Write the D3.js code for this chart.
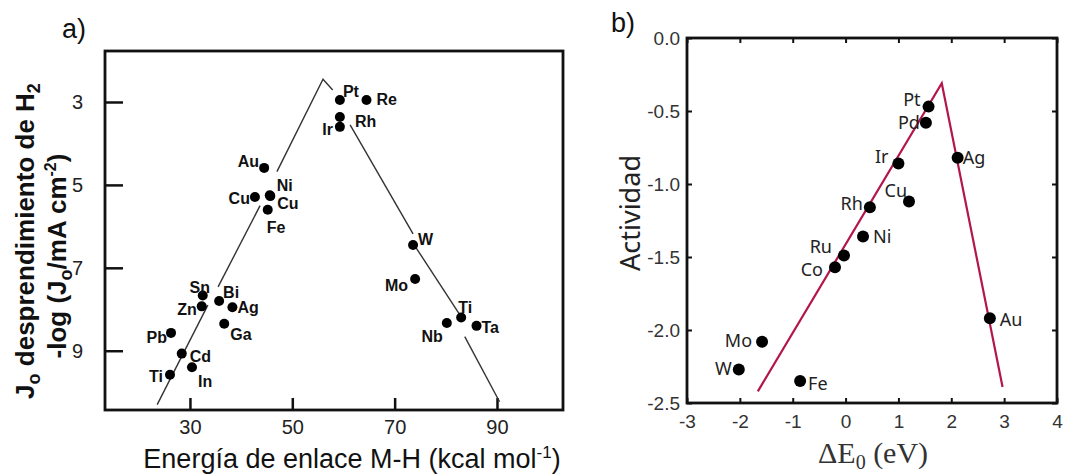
<!DOCTYPE html>
<html>
<head>
<meta charset="utf-8">
<script src="https://cdn.jsdelivr.net/npm/d3@7"></script>
<style>
  body { margin: 0; background: #fff; }
  svg { display: block; }
  .arial { font-family: "Liberation Sans", Arial, sans-serif; }
  .myriad { font-family: "Noto Sans", "Open Sans", sans-serif; }
  .serif { font-family: "Liberation Serif", "DejaVu Serif", serif; }
</style>
</head>
<body>
<svg id="chart" width="1073" height="476"></svg>
<script>
// panel a) metal names, M-H bond energy (kcal/mol), -log(J0)
var metalsA = ["Pt", "Re", "Rh", "Ir", "Au", "Cu", "Ni", "Cu", "Fe", "W", "Mo", "Sn", "Zn", "Bi", "Ag", "Ga", "Pb", "Cd", "In", "Ti", "Nb", "Ti", "Ta"];
var bondEnergy = [59.3, 64.5, 59.3, 59.3, 44.5, 42.7, 45.6, 45.7, 45.2, 73.6, 74.0, 32.5, 32.3, 35.7, 38.3, 36.7, 26.3, 28.4, 30.4, 26.1, 80.2, 83.0, 86.0];
var logJ0 = [2.95, 2.95, 3.36, 3.6, 4.59, 5.29, 5.25, 5.27, 5.6, 6.45, 7.27, 7.67, 7.93, 7.8, 7.95, 8.35, 8.57, 9.07, 9.4, 9.58, 8.33, 8.2, 8.4];
var ticksAx = [30, 50, 70, 90];
var ticksAy = [3, 5, 7, 9];
// hand drawn volcano line of a), broken around the labels
var volcanoA = [
  [[23.6, 10.3], [33.5, 7.9]],
  [[35.5, 7.46], [43.7, 5.5]],
  [[47.0, 4.68], [56.0, 2.45], [57.9, 2.71]],
  [[61.3, 3.55], [73.6, 6.18]],
  [[74.1, 6.5], [83.1, 8.2]],
  [[83.7, 8.66], [90.5, 10.23]]
];

// panel b) metal names, dE0 (eV), activity
var metalsB = ["Pt", "Pd", "Ir", "Ag", "Cu", "Rh", "Ni", "Ru", "Co", "Au", "Mo", "W", "Fe"];
var deltaE = [1.57, 1.52, 1.0, 2.12, 1.2, 0.46, 0.33, -0.03, -0.2, 2.73, -1.58, -2.02, -0.86];
var activity = [-0.47, -0.58, -0.86, -0.82, -1.12, -1.16, -1.36, -1.49, -1.57, -1.92, -2.08, -2.27, -2.35];
var ticksBx = [-3, -2, -1, 0, 1, 2, 3, 4];
var ticksBy = [-2.5, -2.0, -1.5, -1.0, -0.5, 0.0];
var volcanoB = [[-1.66, -2.42], [1.82, -0.31], [2.97, -2.39]];

// label placement [anchor, dx, dy] per point
var placeA = [
  ["start", 3, -3], ["start", 10, 5], ["start", 15, 10], ["end", -7, 8], ["end", -5, -1],
  ["end", -5, 7], ["start", 7, -4], ["start", 7, 13], ["start", -1, 23], ["start", 5, 0],
  ["end", -7, 12], ["middle", -3, -3], ["end", -5, 9], ["start", 4, -3], ["start", 5, 6],
  ["start", 6, 16], ["end", -4, 10], ["start", 8, 8], ["start", 6, 20], ["end", -7, 7],
  ["end", -4, 19], ["start", -3, -5], ["start", 5, 7]
];
var placeB = [
  ["end", -8, -1], ["end", -6, 6], ["end", -10, -1], ["start", 5, 6], ["end", -2, -5],
  ["end", -7, 3], ["start", 10, 6], ["end", -12, -3], ["end", -12, 9], ["start", 10, 8],
  ["end", -10, 5], ["end", -7, 6], ["start", 8, 9]
];

var svg = d3.select("#chart");

// ---------- panel a ----------
var xA = d3.scaleLinear().domain([13.4, 102.9]).range([105, 563]);
var yA = d3.scaleLinear().domain([1.77, 10.43]).range([51, 410]);

var ga = svg.append("g").attr("class", "arial");

ga.append("g")
  .attr("transform", "translate(105,0)")
  .call(d3.axisLeft(yA).tickValues(ticksAy).tickSize(-18).tickPadding(22))
  .call(g => g.select(".domain").remove())
  .call(g => g.selectAll("line").attr("stroke", "#111").attr("stroke-width", 2.5))
  .call(g => g.selectAll("text").attr("font-size", 20).attr("fill", "#222").attr("font-family", null));

ga.append("g")
  .attr("transform", "translate(0,410)")
  .call(d3.axisBottom(xA).tickValues(ticksAx).tickSize(-12).tickPadding(10))
  .call(g => g.select(".domain").remove())
  .call(g => g.selectAll("line").attr("stroke", "#111").attr("stroke-width", 2.5))
  .call(g => g.selectAll("text").attr("font-size", 20).attr("fill", "#222").attr("font-family", null));

ga.append("rect")
  .attr("x", xA.range()[0]).attr("y", yA.range()[0])
  .attr("width", xA.range()[1] - xA.range()[0])
  .attr("height", yA.range()[1] - yA.range()[0])
  .attr("fill", "none").attr("stroke", "#111").attr("stroke-width", 2.8);

var lineA = d3.line().x(d => xA(d[0])).y(d => yA(d[1]));
ga.selectAll(".vol").data(volcanoA).enter().append("path")
  .attr("d", lineA)
  .attr("fill", "none").attr("stroke", "#333").attr("stroke-width", 1.4);

ga.selectAll(".dotA").data(metalsA).enter().append("circle")
  .attr("cx", (d, i) => xA(bondEnergy[i]))
  .attr("cy", (d, i) => yA(logJ0[i]))
  .attr("r", 5).attr("fill", "#000");

ga.selectAll(".labA").data(metalsA).enter().append("text")
  .attr("x", (d, i) => xA(bondEnergy[i]) + placeA[i][1])
  .attr("y", (d, i) => yA(logJ0[i]) + placeA[i][2])
  .attr("text-anchor", (d, i) => placeA[i][0])
  .attr("font-size", 16).attr("font-weight", "bold").attr("fill", "#111")
  .text(d => d);

ga.append("text").attr("x", 62).attr("y", 38).attr("font-size", 27).attr("fill", "#111").text("a)");

var yl = ga.append("g").attr("font-weight", "bold").attr("font-size", 26)
  .attr("fill", "#111").attr("text-anchor", "middle");
var t1 = yl.append("text").attr("transform", "translate(34,241) rotate(-90)");
t1.append("tspan").text("J");
t1.append("tspan").attr("font-size", 18).attr("dy", 6).text("o");
t1.append("tspan").attr("dy", -6).text(" desprendimiento  de H");
t1.append("tspan").attr("font-size", 18).attr("dy", 6).text("2");
var t2 = yl.append("text").attr("transform", "translate(66,256) rotate(-90)");
t2.append("tspan").text("-log (J");
t2.append("tspan").attr("font-size", 18).attr("dy", 6).text("o");
t2.append("tspan").attr("dy", -6).text("/mA cm");
t2.append("tspan").attr("font-size", 16).attr("dy", -10).text("-2");
t2.append("tspan").attr("dy", 10).text(")");

var xl = ga.append("text").attr("x", 352).attr("y", 468).attr("text-anchor", "middle")
  .attr("font-size", 27).attr("fill", "#111");
xl.append("tspan").text("Energía de enlace M-H (kcal mol");
xl.append("tspan").attr("font-size", 17).attr("dy", -10).text("-1");
xl.append("tspan").attr("dy", 10).text(")");

// ---------- panel b ----------
var xB = d3.scaleLinear().domain([-3, 4]).range([687, 1057]);
var yB = d3.scaleLinear().domain([-2.5, 0]).range([403, 38]);

var gb = svg.append("g").attr("class", "myriad");

function tickStyle(g) {
  g.select(".domain").remove();
  g.selectAll("line").attr("stroke", "#111").attr("stroke-width", 2);
  g.selectAll("text").attr("font-size", 19).attr("fill", "#333").attr("font-family", null);
}

gb.append("g").attr("transform", "translate(687,0)")
  .call(d3.axisLeft(yB).tickValues(ticksBy).tickSize(-5).tickPadding(7).tickFormat(d => d.toFixed(1)))
  .call(tickStyle);
gb.append("g").attr("transform", "translate(1057,0)")
  .call(d3.axisRight(yB).tickValues(ticksBy).tickSize(-5).tickFormat(""))
  .call(tickStyle);
gb.append("g").attr("transform", "translate(0,403)")
  .call(d3.axisBottom(xB).tickValues(ticksBx).tickSize(-5).tickPadding(12).tickFormat(d => String(d)))
  .call(tickStyle);
gb.append("g").attr("transform", "translate(0,38)")
  .call(d3.axisTop(xB).tickValues(ticksBx).tickSize(-5).tickFormat(""))
  .call(tickStyle);

gb.append("rect")
  .attr("x", xB.range()[0]).attr("y", yB.range()[1])
  .attr("width", xB.range()[1] - xB.range()[0])
  .attr("height", yB.range()[0] - yB.range()[1])
  .attr("fill", "none").attr("stroke", "#111").attr("stroke-width", 2.8);

gb.append("path")
  .attr("d", d3.line().x(d => xB(d[0])).y(d => yB(d[1]))(volcanoB))
  .attr("fill", "none").attr("stroke", "#b3164a").attr("stroke-width", 2.2);

gb.selectAll(".dotB").data(metalsB).enter().append("circle")
  .attr("cx", (d, i) => xB(deltaE[i]))
  .attr("cy", (d, i) => yB(activity[i]))
  .attr("r", 6).attr("fill", "#000");

gb.selectAll(".labB").data(metalsB).enter().append("text")
  .attr("x", (d, i) => xB(deltaE[i]) + placeB[i][1])
  .attr("y", (d, i) => yB(activity[i]) + placeB[i][2])
  .attr("text-anchor", (d, i) => placeB[i][0])
  .attr("font-size", 18).attr("fill", "#222")
  .text(d => d);

gb.append("text").attr("x", 611).attr("y", 32).attr("font-size", 27).attr("fill", "#111")
  .attr("class", "arial").text("b)");

gb.append("text").attr("transform", "translate(640,213) rotate(-90)")
  .attr("text-anchor", "middle").attr("font-size", 27).attr("fill", "#222").text("Actividad");

var xlb = gb.append("text").attr("class", "serif").attr("x", 818).attr("y", 463)
  .attr("font-size", 30).attr("fill", "#333");
xlb.append("tspan").text("ΔE");
xlb.append("tspan").attr("font-size", 20).attr("dy", 6).text("0");
xlb.append("tspan").attr("dy", -6).text(" (eV)");
</script>
</body>
</html>
